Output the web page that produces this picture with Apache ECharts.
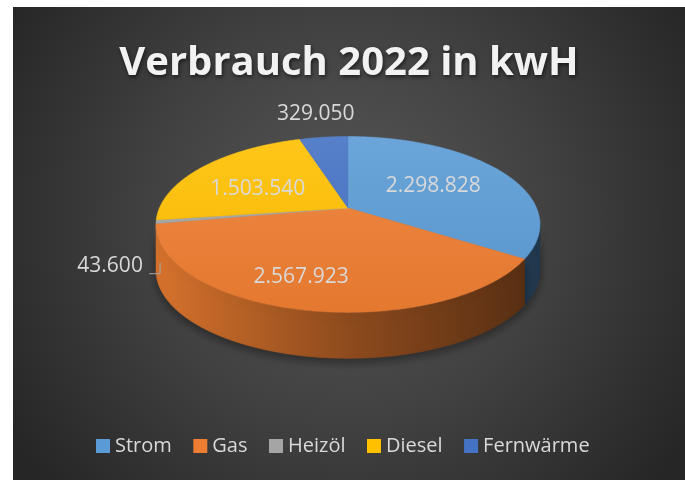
<!DOCTYPE html>
<html>
<head>
<meta charset="utf-8">
<script src="https://cdn.jsdelivr.net/npm/echarts@6/dist/echarts.min.js"></script>
<style>
  html, body { margin: 0; padding: 0; background: #fff; }
  #chart { position: absolute; left: 13px; top: 7px; width: 672px; height: 473px; }
</style>
</head>
<body>
<div id="chart"></div>
<script>
var categories = ['Strom', 'Gas', 'Heizöl', 'Diesel', 'Fernwärme'];
var values = [2298828, 2567923, 43600, 1503540, 329050];
var colors = ['#5B9BD5', '#ED7D31', '#A5A5A5', '#FFC000', '#4472C4'];

// tilted disc, a bit of perspective like the excel 3d pie
var CX = 335, CY = 201, RAD = 188.6, SQUASH = 0.45, PERSP = 0.187, DEPTH = 46;

// where each label sits: radius on the disc + nudge in px
var labelLayout = [
  { r: 0.6, dx: -9, dy: 1 },
  { r: 0.6, dx: -22, dy: 13 },
  { r: 1.0, dx: -46, dy: 44, leader: true },
  { r: 0.6, dx: 0, dy: 7 },
  { r: 1.0, dx: -8, dy: -23 }
];

var total = values.reduce(function (a, b) { return a + b; }, 0);
var starts = [];
var acc = 0;
values.forEach(function (v) { starts.push(acc / total * 360); acc += v; });

function project(deg, r, down) {
  var p = deg * Math.PI / 180;
  var X = r * Math.sin(p), Z = -r * Math.cos(p);
  var f = 1 / (1 - PERSP * Z);
  return [CX + RAD * X * f, CY + RAD * Z * SQUASH * f + (down || 0)];
}

function arcPoints(a0, a1, down) {
  var n = Math.max(2, Math.ceil((a1 - a0) / 0.5));
  var pts = [];
  for (var k = 0; k <= n; k++) pts.push(project(a0 + (a1 - a0) * k / n, 1, down));
  return pts;
}

// left / right silhouette of the disc -> visible part of the side wall
var phiR = 90, phiL = 270, maxX = -1e9, minX = 1e9;
for (var d = 0; d < 360; d += 0.1) {
  var x = project(d, 1)[0];
  if (x > maxX) { maxX = x; phiR = d; }
  if (x < minX) { minX = x; phiL = d; }
}

function shade(hex, k) {
  var n = parseInt(hex.slice(1), 16);
  var c = [(n >> 16) & 255, (n >> 8) & 255, n & 255].map(function (v) {
    v = k > 1 ? v + (255 - v) * (k - 1) : v * k;
    return Math.round(Math.min(255, v));
  });
  return 'rgb(' + c.join(',') + ')';
}

function fmt(v) {
  return String(v).replace(/\B(?=(\d{3})+(?!\d))/g, '.');
}

function renderSlice(i) {
  return function (params, api) {
    var a0 = starts[i];
    var a1 = a0 + api.value(0) / total * 360;
    var base = colors[i];
    var children = [];

    var w0 = Math.max(a0, phiR), w1 = Math.min(a1, phiL);
    if (w1 > w0) {
      var wall = arcPoints(w0, w1, 0).concat(arcPoints(w0, w1, DEPTH).reverse());
      var wallFill = new echarts.graphic.LinearGradient(CX - RAD, 0, CX + RAD, 0, [
        { offset: 0, color: shade(base, 0.9) },
        { offset: 0.5, color: shade(base, 0.6) },
        { offset: 1, color: shade(base, 0.36) }
      ], true);
      children.push({
        type: 'polygon', z2: 1,
        shape: { points: wall },
        style: {
          fill: wallFill, stroke: wallFill, lineWidth: 0.5,
          shadowColor: 'rgba(0,0,0,0.4)', shadowBlur: 10, shadowOffsetY: 4
        }
      });
    }

    var top = [[CX, CY]].concat(arcPoints(a0, a1, 0));
    var topFill = new echarts.graphic.LinearGradient(0, CY - 72, 0, CY + 105, [
      { offset: 0, color: shade(base, 1.1) },
      { offset: 1, color: shade(base, 0.96) }
    ], true);
    children.push({
      type: 'polygon', z2: 5,
      shape: { points: top },
      style: { fill: topFill, stroke: topFill, lineWidth: 0.5 }
    });

    var lay = labelLayout[i];
    var mid = (a0 + a1) / 2;
    var pt = project(mid, lay.r);
    var lx = pt[0] + lay.dx, ly = pt[1] + lay.dy;
    children.push({
      type: 'text', z2: 10,
      x: lx, y: ly,
      style: {
        text: fmt(api.value(0)),
        fill: '#d9d9d9',
        fontSize: 21,
        fontFamily: 'Open Sans',
        align: 'center',
        verticalAlign: 'middle'
      }
    });
    if (lay.leader) {
      var edge = project(mid, 1);
      children.push({
        type: 'polyline', z2: 10,
        shape: { points: [[edge[0] - 7, edge[1] + 52], [edge[0] + 4, edge[1] + 52], [edge[0] + 4, edge[1] + 41]] },
        style: { stroke: '#a6a6a6', lineWidth: 1, fill: null }
      });
    }
    return { type: 'group', children: children };
  };
}

var chart = echarts.init(document.getElementById('chart'));

var option = {
  animation: false,
  backgroundColor: {
    type: 'radial', x: 0.5, y: 0.45, r: 0.85,
    colorStops: [
      { offset: 0, color: '#575757' },
      { offset: 0.5, color: '#414141' },
      { offset: 1, color: '#262626' }
    ]
  },
  title: {
    text: 'Verbrauch 2022 in kwH',
    left: 'center',
    top: 33,
    padding: 0,
    textStyle: {
      color: '#f2f2f2',
      fontSize: 40,
      fontWeight: 'bold',
      fontFamily: 'Open Sans',
      lineHeight: 48,
      textShadowColor: 'rgba(0,0,0,0.6)',
      textShadowBlur: 4,
      textShadowOffsetX: 1,
      textShadowOffsetY: 2
    }
  },
  legend: {
    data: categories,
    left: 78,
    top: 424,
    icon: 'rect',
    itemWidth: 14,
    itemHeight: 14,
    itemGap: 21.5,
    selectedMode: false,
    textStyle: { color: '#d9d9d9', fontSize: 20, fontFamily: 'Open Sans', lineHeight: 20 }
  },
  series: categories.map(function (name, i) {
    return {
      type: 'custom',
      name: name,
      coordinateSystem: 'none',
      itemStyle: { color: colors[i] },
      silent: true,
      data: [[values[i]]],
      renderItem: renderSlice(i)
    };
  })
};

chart.setOption(option);
</script>
</body>
</html>
